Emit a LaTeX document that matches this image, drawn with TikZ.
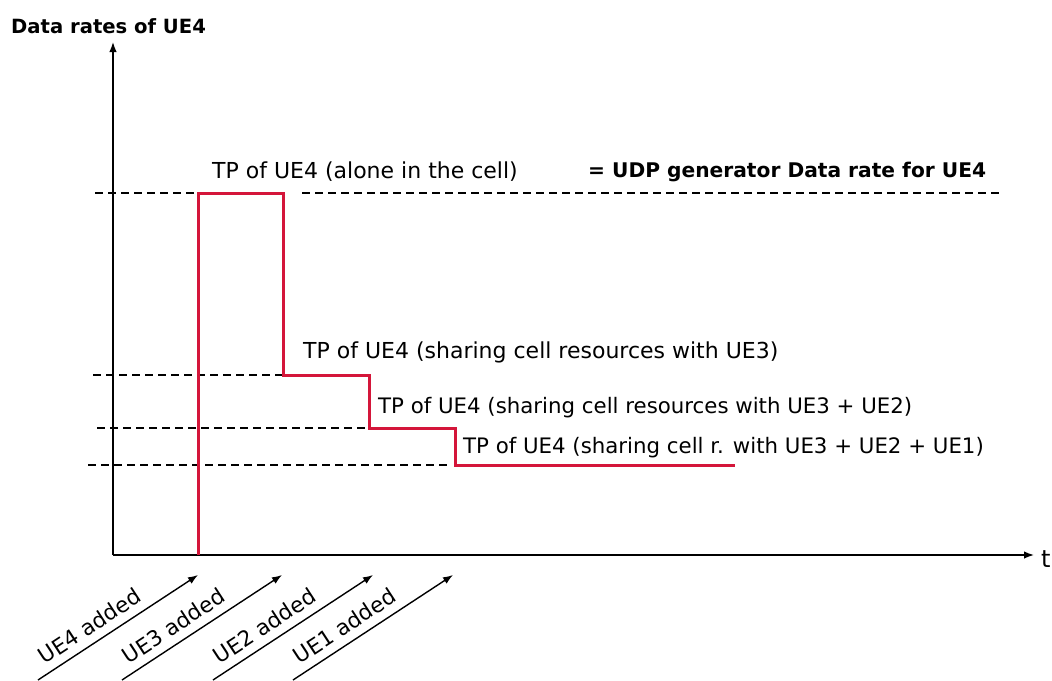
\documentclass[tikz,border=0pt]{standalone}
\usepackage{fontspec}
\setmainfont{DejaVu Sans}
\usetikzlibrary{arrows.meta}
\definecolor{tpred}{RGB}{212,22,58}
\begin{document}
\begin{tikzpicture}[x=1pt,y=-1pt,
  txt/.style={font=\fontsize{22}{26}\selectfont, inner sep=0pt, anchor=base west},
  btxt/.style={txt, font=\fontsize{20.2}{24}\selectfont\bfseries},
  axis/.style={line width=1.5pt, -{Latex[length=10pt,width=7.5pt]}},
  level/.style={line width=1.4pt, dash pattern=on 8pt off 5pt},
  rate/.style={line width=3pt, tpred, line join=miter},
  event/.style={line width=1.4pt, -{Latex[length=10pt,width=7.5pt]}},
  evlbl/.style={font=\fontsize{21.5}{24}\selectfont, inner sep=0pt, sloped, anchor=south}
]
\useasboundingbox (0,0) rectangle (1052,680);
% axes
\coordinate (O) at (113,555);
\coordinate (Ytop) at (113,42);
\coordinate (Xend) at (1034,555);
\draw[axis] (O) -- (Ytop);
\draw[axis] (O) -- (Xend);
\node[btxt, font=\fontsize{19.6}{24}\selectfont\bfseries] (ylab) at (11,33) {Data rates of UE4};
\node[txt, font=\fontsize{24}{26}\selectfont] (tlab) at (1041,567) {t};
% rate curve
\coordinate (P0) at (198,555);
\coordinate (P1) at (198,193);
\coordinate (P2) at (283,193);
\coordinate (P3) at (283,375);
\coordinate (P4) at (369,375);
\coordinate (P5) at (369,428);
\coordinate (P6) at (455,428);
\coordinate (P7) at (455,465);
\coordinate (P8) at (735,465);
% dashed levels
\coordinate (D1a) at (95,193);
\coordinate (D1b) at (302,193);
\coordinate (D1c) at (1000,193);
\coordinate (D2a) at (93,375);
\coordinate (D3a) at (97,428);
\coordinate (D4a) at (88,465);
\coordinate (D4b) at (450,465);
\draw[level] (D1a) -- (P1);
\draw[level] (D1b) -- (D1c);
\draw[level] (D2a) -- (P3);
\draw[level] (D3a) -- (P5);
\draw[level] (D4a) -- (D4b);
\draw[rate] (P0) -- (P1) -- (P2) -- (P3) -- (P4) -- (P5) -- (P6) -- (P7) -- (P8);
% labels
\node[txt] (l1) at (212,178) {TP of UE4 (alone in the cell)};
\node[btxt] (l1b) at (588,177) {= UDP generator Data rate for UE4};
\node[txt] (l2) at (303,358) {TP of UE4 (sharing cell resources with UE3)};
\node[txt, font=\fontsize{21.3}{26}\selectfont] (l3) at (378,413) {TP of UE4 (sharing cell resources with UE3 + UE2)};
\node[txt, font=\fontsize{21.3}{26}\selectfont] (l4) at (463,453) {TP of UE4 (sharing cell r. with UE3 + UE2 + UE1)};
% events
\coordinate (E1s) at (38,680);  \coordinate (E1t) at (198,575);
\coordinate (E2s) at (122,680); \coordinate (E2t) at (282,575);
\coordinate (E3s) at (213,680); \coordinate (E3t) at (373,575);
\coordinate (E4s) at (293,680); \coordinate (E4t) at (453,575);
\draw[event] (E1s) -- node[evlbl, pos=0.38, yshift=8pt] (e1) {UE4 added} (E1t);
\draw[event] (E2s) -- node[evlbl, pos=0.38, yshift=8pt] (e2) {UE3 added} (E2t);
\draw[event] (E3s) -- node[evlbl, pos=0.38, yshift=8pt] (e3) {UE2 added} (E3t);
\draw[event] (E4s) -- node[evlbl, pos=0.38, yshift=8pt] (e4) {UE1 added} (E4t);
\end{tikzpicture}
\end{document}
